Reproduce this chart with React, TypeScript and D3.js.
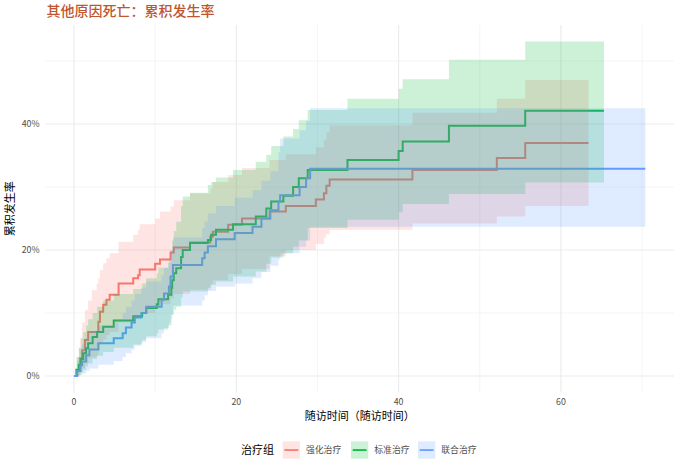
import React from "react";
import * as d3 from "d3";

// ---- data ----
const groups = ["强化治疗", "标准治疗", "联合治疗"];
const colors = ["#F8766D", "#00BA38", "#619CFF"];

const redTimes = [0, 0.4, 0.6, 0.75, 1.0, 1.35, 1.75, 2.2, 2.8, 3.0, 3.2, 3.6, 4.0, 4.4, 5.5, 7.3, 7.9, 8.1, 10.0, 10.6, 11.9, 12.3, 14.3, 16.8, 17.1, 19.0, 20.7, 24.1, 26.1, 29.8, 30.8, 31.1, 31.5, 41.7, 52.1, 55.6, 63.4];
const redEst = [0, 0.008, 0.015, 0.028, 0.041, 0.057, 0.07, 0.07, 0.07, 0.086, 0.102, 0.113, 0.121, 0.129, 0.147, 0.155, 0.16, 0.169, 0.178, 0.185, 0.196, 0.204, 0.212, 0.221, 0.229, 0.24, 0.25, 0.261, 0.27, 0.28, 0.29, 0.302, 0.312, 0.327, 0.346, 0.37, 0.37];
const redUpper = [0, 0.03, 0.045, 0.06, 0.085, 0.105, 0.12, 0.136, 0.147, 0.155, 0.168, 0.179, 0.187, 0.195, 0.213, 0.224, 0.232, 0.241, 0.25, 0.261, 0.269, 0.279, 0.29, 0.298, 0.308, 0.319, 0.33, 0.343, 0.352, 0.363, 0.375, 0.387, 0.398, 0.418, 0.44, 0.47, 0.47];
const redLower = [0, 0, 0.002, 0.006, 0.012, 0.02, 0.028, 0.03, 0.032, 0.04, 0.05, 0.058, 0.065, 0.07, 0.085, 0.09, 0.094, 0.1, 0.108, 0.114, 0.123, 0.13, 0.137, 0.145, 0.152, 0.162, 0.17, 0.19, 0.2, 0.21, 0.22, 0.225, 0.232, 0.242, 0.253, 0.27, 0.27];

const greenTimes = [0, 0.3, 0.6, 0.9, 1.15, 1.5, 1.75, 2.3, 2.85, 3.6, 4.9, 7.3, 8.4, 8.9, 10.2, 10.4, 11.6, 12.0, 12.1, 12.3, 12.6, 13.2, 13.4, 14.3, 16.5, 16.9, 17.5, 19.6, 22.4, 23.7, 24.3, 25.8, 27.0, 27.7, 28.8, 33.7, 40.0, 40.5, 46.2, 55.6, 65.3];
const greenEst = [0, 0.01, 0.018, 0.027, 0.036, 0.044, 0.052, 0.062, 0.07, 0.078, 0.088, 0.095, 0.1, 0.108, 0.114, 0.122, 0.129, 0.14, 0.152, 0.163, 0.171, 0.189, 0.2, 0.211, 0.216, 0.224, 0.232, 0.241, 0.253, 0.266, 0.277, 0.286, 0.3, 0.314, 0.327, 0.343, 0.357, 0.372, 0.397, 0.421, 0.421];
const greenUpper = [0, 0.03, 0.045, 0.06, 0.07, 0.08, 0.09, 0.1, 0.11, 0.12, 0.13, 0.138, 0.147, 0.155, 0.163, 0.172, 0.18, 0.2, 0.215, 0.23, 0.245, 0.27, 0.285, 0.291, 0.303, 0.308, 0.315, 0.327, 0.34, 0.351, 0.365, 0.38, 0.392, 0.406, 0.422, 0.44, 0.456, 0.471, 0.502, 0.531, 0.531];
const greenLower = [0, 0, 0.002, 0.005, 0.01, 0.015, 0.02, 0.027, 0.032, 0.038, 0.045, 0.05, 0.057, 0.063, 0.068, 0.074, 0.08, 0.09, 0.098, 0.105, 0.11, 0.125, 0.134, 0.134, 0.14, 0.145, 0.15, 0.158, 0.166, 0.178, 0.188, 0.195, 0.205, 0.215, 0.235, 0.248, 0.26, 0.273, 0.289, 0.307, 0.307];

const blueTimes = [0, 0.4, 0.8, 1.0, 1.5, 1.9, 3.0, 4.9, 6.0, 6.4, 7.1, 7.5, 8.3, 8.9, 10.8, 11.1, 11.7, 11.9, 12.2, 15.8, 16.1, 16.5, 17.5, 19.8, 22.0, 23.1, 24.2, 25.2, 25.4, 27.8, 28.6, 29.1, 70.4];
const blueEst = [0, 0.008, 0.017, 0.023, 0.033, 0.042, 0.052, 0.06, 0.068, 0.077, 0.085, 0.093, 0.1, 0.11, 0.121, 0.131, 0.142, 0.158, 0.176, 0.187, 0.196, 0.206, 0.217, 0.227, 0.237, 0.25, 0.263, 0.277, 0.287, 0.3, 0.314, 0.329, 0.329];
const blueUpper = [0, 0.025, 0.04, 0.05, 0.06, 0.07, 0.08, 0.09, 0.1, 0.11, 0.12, 0.13, 0.14, 0.15, 0.16, 0.172, 0.185, 0.2, 0.22, 0.235, 0.245, 0.258, 0.27, 0.283, 0.295, 0.31, 0.325, 0.355, 0.377, 0.39, 0.405, 0.425, 0.425];
const blueLower = [0, 0, 0.002, 0.004, 0.008, 0.012, 0.018, 0.024, 0.03, 0.036, 0.042, 0.048, 0.054, 0.06, 0.068, 0.076, 0.085, 0.097, 0.112, 0.12, 0.128, 0.135, 0.142, 0.147, 0.155, 0.165, 0.175, 0.185, 0.195, 0.205, 0.215, 0.237, 0.237];

const xMajor = [0, 20, 40, 60];
const xMinor = [10, 30, 50, 70];
const yMajor = [0, 0.2, 0.4];
const yMinor = [0.1, 0.3, 0.5];

const title = "其他原因死亡：累积发生率";
const xTitle = "随访时间（随访时间）";
const yTitle = "累积发生率";
const legendTitle = "治疗组";

type Pt = { t: number; e: number; lo: number; hi: number };
const build = (t: number[], e: number[], lo: number[], hi: number[]): Pt[] =>
  t.map((v, i) => ({ t: v, e: e[i], lo: lo[i], hi: hi[i] }));

const series: Pt[][] = [
  build(redTimes, redEst, redLower, redUpper),
  build(greenTimes, greenEst, greenLower, greenUpper),
  build(blueTimes, blueEst, blueLower, blueUpper),
];

const W = 681;
const H = 471;
const P = { left: 45.4, right: 673.9, top: 25, bottom: 392.7 };
const FONT = "'Noto Sans CJK SC', 'Noto Sans', sans-serif";

export default function App() {
  const x = d3.scaleLinear().domain([-3.52, 73.92]).range([P.left, P.right]);
  const y = d3.scaleLinear().domain([-0.0265, 0.5571]).range([P.bottom, P.top]);

  const line = d3
    .line<Pt>()
    .x((d) => x(d.t))
    .y((d) => y(d.e))
    .curve(d3.curveStepAfter);
  const area = d3
    .area<Pt>()
    .x((d) => x(d.t))
    .y0((d) => y(d.lo))
    .y1((d) => y(d.hi))
    .curve(d3.curveStepAfter);

  const pct = d3.format(".0%");
  const fills = colors.map((c) => {
    const col = d3.rgb(c);
    const mix = (v: number) => Math.round(255 - (255 - v) * 0.2);
    return d3.rgb(mix(col.r), mix(col.g), mix(col.b)).formatHex();
  });

  const legendKeys = [282.7, 351, 418];

  return (
    <svg
      width={W}
      height={H}
      style={{ position: "absolute", left: 0, top: 0, background: "#fff" }}
      fontFamily={FONT}
    >
      <rect width={W} height={H} fill="#fff" />
      {/* grid */}
      {yMinor.map((v) => (
        <line key={"ym" + v} x1={P.left} x2={P.right} y1={y(v)} y2={y(v)} stroke="#EBEBEB" strokeWidth={0.55} />
      ))}
      {xMinor.map((v) => (
        <line key={"xm" + v} y1={P.top} y2={P.bottom} x1={x(v)} x2={x(v)} stroke="#EBEBEB" strokeWidth={0.55} />
      ))}
      {yMajor.map((v) => (
        <line key={"yM" + v} x1={P.left} x2={P.right} y1={y(v)} y2={y(v)} stroke="#EBEBEB" strokeWidth={1.1} />
      ))}
      {xMajor.map((v) => (
        <line key={"xM" + v} y1={P.top} y2={P.bottom} x1={x(v)} x2={x(v)} stroke="#EBEBEB" strokeWidth={1.1} />
      ))}

      {/* step lines (drawn under ribbons) */}
      {series.map((s, i) => (
        <path key={"l" + i} d={line(s) || ""} fill="none" stroke={colors[i]} strokeWidth={2} />
      ))}
      {/* ribbons */}
      {series.map((s, i) => (
        <path key={"a" + i} d={area(s) || ""} fill={colors[i]} fillOpacity={0.2} stroke="none" />
      ))}

      {/* axes text */}
      {yMajor.map((v) => (
        <text key={"yt" + v} x={39.5} y={y(v)} dy="0.35em" textAnchor="end" fontSize={8.8} fill="#4D4D4D">
          {pct(v)}
        </text>
      ))}
      {xMajor.map((v) => (
        <text key={"xt" + v} x={x(v)} y={402.2} dy="0.35em" textAnchor="middle" fontSize={8.8} fill="#4D4D4D">
          {v}
        </text>
      ))}
      <text x={(P.left + P.right) / 2} y={416.3} dy="0.35em" textAnchor="middle" fontSize={11} fill="#000">
        {xTitle}
      </text>
      <text
        transform={`translate(10,${(P.top + P.bottom) / 2}) rotate(-90)`}
        dy="0.35em"
        textAnchor="middle"
        fontSize={11}
        fill="#000"
      >
        {yTitle}
      </text>

      {/* title */}
      <text x={46.5} y={16.3} fontSize={14} fontWeight={500} fill="#C0552F">
        {title}
      </text>

      {/* legend */}
      <text x={241} y={450} dy="0.35em" fontSize={11} fill="#000">
        {legendTitle}
      </text>
      {groups.map((g, i) => (
        <g key={"lg" + i} transform={`translate(${legendKeys[i]},441.4)`}>
          <rect width={17.3} height={17.3} fill={fills[i]} />
          <line x1={1.7} x2={15.6} y1={8.65} y2={8.65} stroke={colors[i]} strokeWidth={1.7} />
          <text x={23.3} y={8.65} dy="0.35em" fontSize={8.8} fill="#4D4D4D">
            {g}
          </text>
        </g>
      ))}
    </svg>
  );
}
